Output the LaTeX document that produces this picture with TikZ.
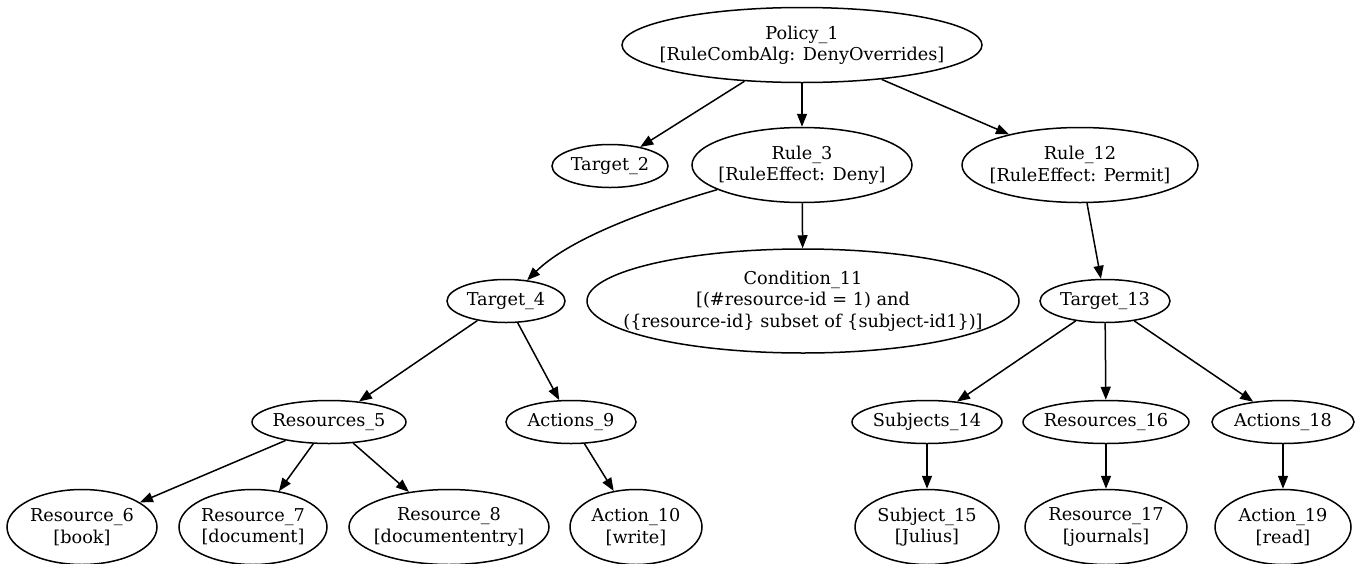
\documentclass[tikz,border=0pt]{standalone}
\usepackage{fontspec}
\setmainfont{DejaVu Serif}
\usetikzlibrary{shapes.geometric,arrows.meta}

\tikzset{
  ell/.style={draw, ellipse, inner sep=0pt, line width=1.5pt},
  lbl/.style={align=center, inner sep=0pt, font=\fontsize{17.7}{21.3}\selectfont},
  edge/.style={line width=1.5pt, -{Triangle[length=13pt,width=10pt]}},
}
% ellipse node: name, centre, x radius, y radius, label
\newcommand\gvnode[5]{%
  \node[ell, minimum width=2*#3, minimum height=2*#4,
        label={[lbl]center:{#5}}] (#1) at (#2) {};}

\begin{document}
\begin{tikzpicture}[x=1pt,y=-1pt]
\useasboundingbox (0,0) rectangle (1358,563);

% level 0 and 1
\gvnode{p1}{802,45}{180}{37.5}{Policy\_1\\{}[RuleCombAlg: DenyOverrides]}
\gvnode{t2}{610,166}{58}{21.5}{Target\_2}
\gvnode{r3}{802,165}{110}{37.5}{Rule\_3\\{}[RuleEffect: Deny]}
\gvnode{r12}{1080,165}{118}{37.5}{Rule\_12\\{}[RuleEffect: Permit]}

% level 2
\gvnode{t4}{506,301}{59}{21.5}{Target\_4}
\gvnode{c11}{803,301}{216}{52}{Condition\_11\\{}[(\#resource-id = 1) and\\(\{resource-id\} subset of \{subject-id1\})]}
\gvnode{t13}{1105,301}{65}{21.5}{Target\_13}

% level 3
\gvnode{res5}{329,422}{77}{21.5}{Resources\_5}
\gvnode{act9}{571,422}{65}{21.5}{Actions\_9}
\gvnode{sub14}{927,422}{75}{21.5}{Subjects\_14}
\gvnode{res16}{1106,422}{83}{21.5}{Resources\_16}
\gvnode{act18}{1283,422}{71}{21.5}{Actions\_18}

% level 4
\gvnode{r6}{82,527}{75}{37.5}{Resource\_6\\{}[book]}
\gvnode{r7}{253,527}{74}{37.5}{Resource\_7\\{}[document]}
\gvnode{r8}{449,527}{100}{37.5}{Resource\_8\\{}[documententry]}
\gvnode{a10}{636,527}{66}{37.5}{Action\_10\\{}[write]}
\gvnode{s15}{927,527}{72}{37.5}{Subject\_15\\{}[Julius]}
\gvnode{r17}{1106,527}{81}{37.5}{Resource\_17\\{}[journals]}
\gvnode{a19}{1283,527}{68}{37.5}{Action\_19\\{}[read]}

% connectors
\draw[edge] (p1) -- (t2);
\draw[edge] (p1) -- (r3);
\draw[edge] (p1) -- (r12);
\draw[edge] (r3) .. controls (630,215) and (565,243) .. (t4);
\draw[edge] (r3) -- (c11);
\draw[edge] (r12) -- (t13);
\draw[edge] (t4) -- (res5);
\draw[edge] (t4) -- (act9);
\draw[edge] (t13) -- (sub14);
\draw[edge] (t13) -- (res16);
\draw[edge] (t13) -- (act18);
\draw[edge] (res5) -- (r6);
\draw[edge] (res5) -- (r7);
\draw[edge] (res5) -- (r8);
\draw[edge] (act9) -- (a10);
\draw[edge] (sub14) -- (s15);
\draw[edge] (res16) -- (r17);
\draw[edge] (act18) -- (a19);
\end{tikzpicture}
\end{document}
